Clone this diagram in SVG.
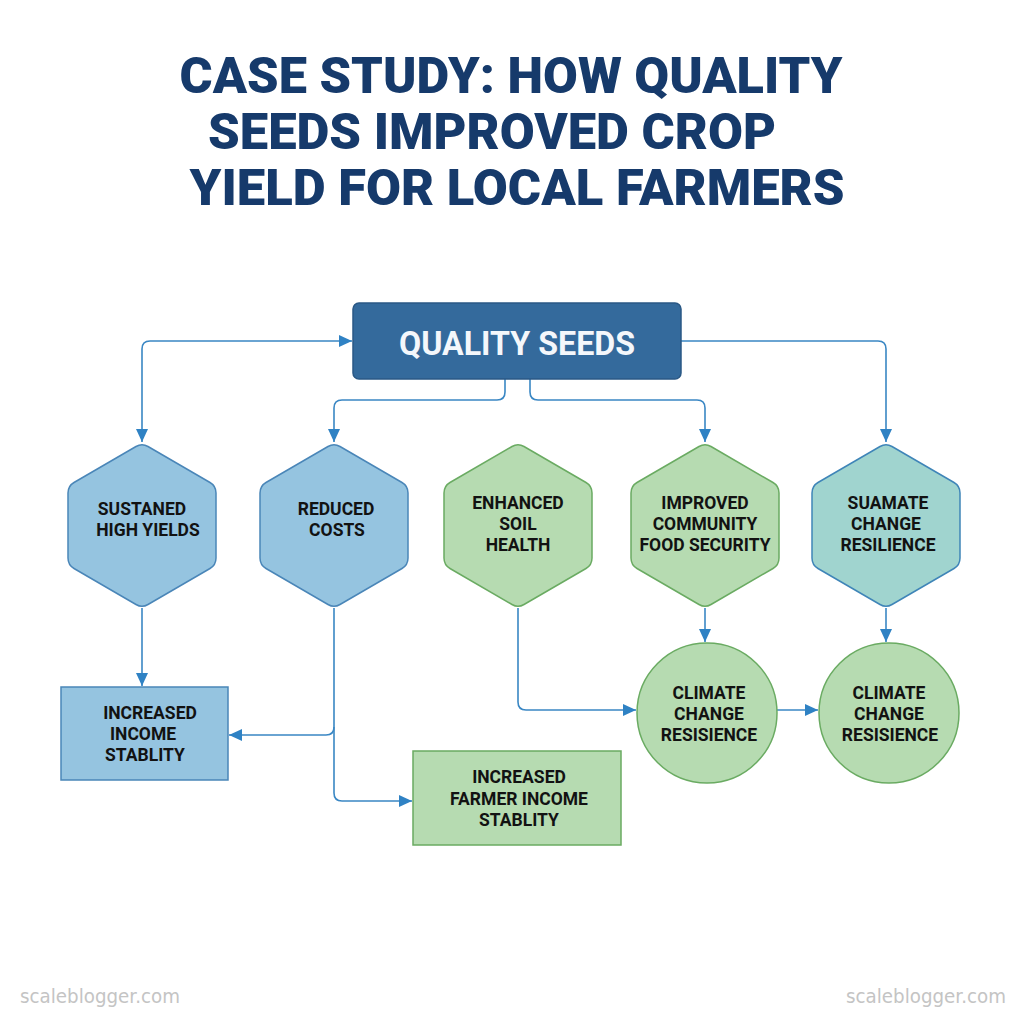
<svg xmlns="http://www.w3.org/2000/svg" width="1024" height="1024" viewBox="0 0 1024 1024">
<defs>
<style>
.title{font-family:Roboto,"Liberation Sans",sans-serif;font-weight:900;font-size:50px;fill:#163a6b;text-anchor:middle}
.lbl{font-family:Roboto,"Liberation Sans",sans-serif;font-weight:bold;font-size:17.5px;fill:#121212;text-anchor:middle;dominant-baseline:central}
.blue{fill:#95c4e0;stroke:#4a86b8;stroke-width:1.5}
.green{fill:#b6dbb1;stroke:#6aab62;stroke-width:1.5}
.teal{fill:#a0d4cf;stroke:#3f85b8;stroke-width:1.5}
.conn{fill:none;stroke:#3a87c4;stroke-width:1.6}
.wm{font-family:"DejaVu Sans",sans-serif;font-size:19px;fill:#c4c4c4}
</style>
<marker id="arr" markerUnits="userSpaceOnUse" markerWidth="14" markerHeight="12" refX="13" refY="6" orient="auto-start-reverse" viewBox="0 0 14 12">
<path d="M0,0 L13,6 L0,12 Z" fill="#2f82c4"/>
</marker>
<path id="hexshape" d="M6,446.5 L68,482.5 Q74,486 74,493 L74,558 Q74,565 68,568.5 L6,604.5 Q0,608 -6,604.5 L-68,568.5 Q-74,565 -74,558 L-74,493 Q-74,486 -68,482.5 L-6,446.5 Q0,443 6,446.5 Z"/>
</defs>
<rect width="1024" height="1024" fill="#ffffff"/>
<g id="title">
<text class="title" x="511" y="93" textLength="663" lengthAdjust="spacingAndGlyphs">CASE STUDY: HOW QUALITY</text>
<text class="title" x="492" y="149" textLength="568" lengthAdjust="spacingAndGlyphs">SEEDS IMPROVED CROP</text>
<text class="title" x="517" y="205" textLength="655" lengthAdjust="spacingAndGlyphs">YIELD FOR LOCAL FARMERS</text>
</g>
<g id="connectors">
<path class="conn" marker-start="url(#arr)" marker-end="url(#arr)" d="M352,341 L150,341 Q142,341 142,349 L142,442"/>
<path class="conn" marker-end="url(#arr)" d="M681,341 L878,341 Q886,341 886,349 L886,442"/>
<path class="conn" marker-end="url(#arr)" d="M505,379 L505,392 Q505,400 497,400 L342,400 Q334,400 334,408 L334,442"/>
<path class="conn" marker-end="url(#arr)" d="M530,379 L530,392 Q530,400 538,400 L697,400 Q705,400 705,408 L705,442"/>
<path class="conn" marker-end="url(#arr)" d="M142,608 L142,686"/>
<path class="conn" marker-end="url(#arr)" d="M334,608 L334,793 Q334,801 342,801 L412,801"/>
<path class="conn" marker-end="url(#arr)" d="M334,727 Q334,735 326,735 L229,735"/>
<path class="conn" marker-end="url(#arr)" d="M518,608 L518,702 Q518,710 526,710 L636,710"/>
<path class="conn" marker-end="url(#arr)" d="M705,608 L705,642"/>
<path class="conn" marker-end="url(#arr)" d="M777,710 L818,710"/>
<path class="conn" marker-end="url(#arr)" d="M886,608 L886,642"/>
</g>
<g id="quality-seeds">
<rect x="353" y="303" width="328" height="76" rx="6" fill="#346a9c" stroke="#2a5885" stroke-width="1.5"/>
<text x="517" y="343" font-family="Roboto,'Liberation Sans',sans-serif" font-weight="bold" font-size="33" fill="#f4f7fb" text-anchor="middle" dominant-baseline="central" textLength="236" lengthAdjust="spacingAndGlyphs">QUALITY SEEDS</text>
</g>
<g id="sustained-high-yields">
<use href="#hexshape" class="blue" transform="translate(142,0)"/>
<text class="lbl" x="142" y="509">SUSTANED</text>
<text class="lbl" x="148" y="530">HIGH YIELDS</text>
</g>
<g id="reduced-costs">
<use href="#hexshape" class="blue" transform="translate(334,0)"/>
<text class="lbl" x="336" y="509">REDUCED</text>
<text class="lbl" x="337" y="530">COSTS</text>
</g>
<g id="enhanced-soil-health">
<use href="#hexshape" class="green" transform="translate(518,0)"/>
<text class="lbl" x="518" y="503">ENHANCED</text>
<text class="lbl" x="518" y="524">SOIL</text>
<text class="lbl" x="518" y="545">HEALTH</text>
</g>
<g id="improved-community-food-security">
<use href="#hexshape" class="green" transform="translate(705,0)"/>
<text class="lbl" x="705" y="503">IMPROVED</text>
<text class="lbl" x="705" y="524">COMMUNITY</text>
<text class="lbl" x="705" y="545">FOOD SECURITY</text>
</g>
<g id="suamate-change-resilience">
<use href="#hexshape" class="teal" transform="translate(886,0)"/>
<text class="lbl" x="888" y="503">SUAMATE</text>
<text class="lbl" x="886" y="524">CHANGE</text>
<text class="lbl" x="888" y="545">RESILIENCE</text>
</g>
<g id="increased-income-stability">
<rect x="61" y="687" width="167" height="93" class="blue"/>
<text class="lbl" x="150" y="713">INCREASED</text>
<text class="lbl" x="143" y="734">INCOME</text>
<text class="lbl" x="145" y="755">STABLITY</text>
</g>
<g id="increased-farmer-income-stability">
<rect x="413" y="751" width="208" height="94" class="green"/>
<text class="lbl" x="519" y="777">INCREASED</text>
<text class="lbl" x="519" y="799">FARMER INCOME</text>
<text class="lbl" x="519" y="820">STABLITY</text>
</g>
<g id="climate-change-resisience-1">
<circle cx="707" cy="713" r="70" class="green"/>
<text class="lbl" x="709" y="693">CLIMATE</text>
<text class="lbl" x="709" y="714">CHANGE</text>
<text class="lbl" x="709" y="735">RESISIENCE</text>
</g>
<g id="climate-change-resisience-2">
<circle cx="889" cy="713" r="70" class="green"/>
<text class="lbl" x="889" y="693">CLIMATE</text>
<text class="lbl" x="889" y="714">CHANGE</text>
<text class="lbl" x="890" y="735">RESISIENCE</text>
</g>
<g id="watermarks">
<text class="wm" x="20" y="1003" textLength="160" lengthAdjust="spacingAndGlyphs">scaleblogger.com</text>
<text class="wm" x="846" y="1003" textLength="160" lengthAdjust="spacingAndGlyphs">scaleblogger.com</text>
</g>
</svg>
